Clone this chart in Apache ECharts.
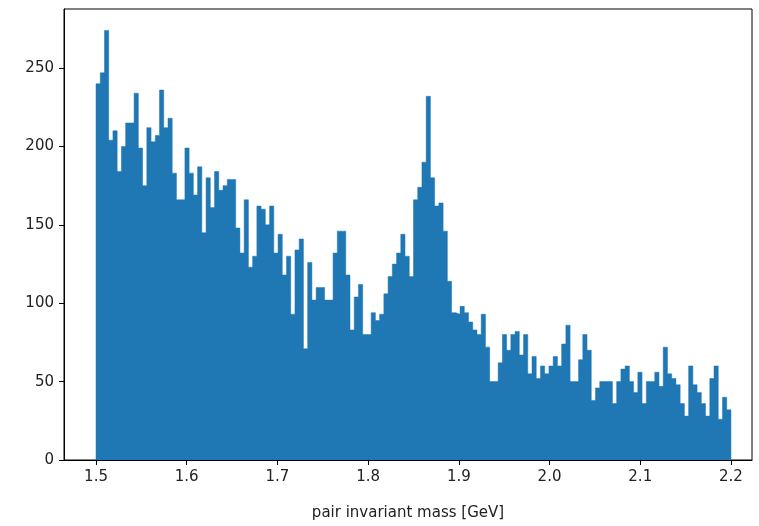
<!DOCTYPE html>
<html>
<head>
<meta charset="utf-8">
<script src="https://cdn.jsdelivr.net/npm/echarts@6/dist/echarts.min.js"></script>
<style>
  html, body { margin: 0; padding: 0; background: #fff; }
  #chart { width: 759px; height: 526px; }
</style>
</head>
<body>
<div id="chart"></div>
<script>
// histogram: 150 bins between 1.5 and 2.2 GeV
const binLow = 1.5;
const binHigh = 2.2;

// counts, 30 bins per block
const counts1500 = [240, 247, 274, 204, 210, 184, 200, 215, 215, 234, 199, 175, 212, 203, 207,
  236, 212, 218, 183, 166, 166, 199, 183, 169, 187, 145, 180, 161, 184, 172];
const counts1640 = [175, 179, 179, 148, 132, 166, 123, 130, 162, 160, 150, 162, 132, 144, 118,
  130, 93, 134, 141, 71, 126, 102, 110, 110, 102, 102, 132, 146, 146, 118];
const counts1780 = [83, 104, 112, 80, 80, 94, 89, 93, 106, 117, 125, 132, 144, 130, 117,
  166, 174, 190, 232, 180, 162, 164, 146, 114, 94, 93, 98, 94, 88, 83];
const counts1920 = [80, 93, 72, 50, 50, 62, 80, 70, 80, 82, 67, 80, 55, 66, 52,
  60, 55, 60, 66, 60, 74, 86, 50, 50, 64, 80, 70, 38, 46, 50];
const counts2060 = [50, 50, 36, 50, 58, 60, 50, 43, 56, 36, 50, 50, 56, 47, 72,
  55, 52, 48, 36, 28, 60, 48, 43, 36, 28, 52, 60, 26, 40, 32];

const xTicks = [1.5, 1.6, 1.7, 1.8, 1.9, 2.0, 2.1, 2.2];
const yTicks = [0, 50, 100, 150, 200, 250];

const counts = [].concat(counts1500, counts1640, counts1780, counts1920, counts2060);
const binWidth = (binHigh - binLow) / counts.length;

// step outline: each bin's left edge carries its count, closed down to 0 at both ends
const steps = [[binLow, 0]];
counts.forEach((c, i) => steps.push([binLow + i * binWidth, c]));
steps.push([binHigh, counts[counts.length - 1]]);
steps.push([binHigh, 0]);

const chart = echarts.init(document.getElementById('chart'));
const font = 'DejaVu Sans';
const barColor = '#1f77b4';

chart.setOption({
  animation: false,
  backgroundColor: '#fff',
  grid: {
    left: 64, right: 7, top: 9, bottom: 65,
    show: true, borderColor: '#000', borderWidth: 1
  },
  xAxis: {
    type: 'value',
    min: 1.4647,
    max: 2.2232,
    name: 'pair invariant mass [GeV]',
    nameLocation: 'middle',
    nameGap: 46,
    nameTextStyle: { color: '#222', fontFamily: font, fontSize: 15 },
    axisLine: { show: true, lineStyle: { color: '#000' } },
    axisTick: { show: true, length: 5, lineStyle: { color: '#000' }, customValues: xTicks },
    axisLabel: {
      color: '#222', fontFamily: font, fontSize: 15, margin: 10,
      customValues: xTicks,
      formatter: v => v.toFixed(1)
    },
    splitLine: { show: false }
  },
  yAxis: {
    type: 'value',
    min: 0,
    max: 287.7,
    axisLine: { show: true, lineStyle: { color: '#000' } },
    axisTick: { show: true, length: 5, lineStyle: { color: '#000' }, customValues: yTicks },
    axisLabel: {
      color: '#222', fontFamily: font, fontSize: 15, margin: 10,
      customValues: yTicks
    },
    splitLine: { show: false }
  },
  series: [{
    type: 'line',
    step: 'end',
    data: steps,
    showSymbol: false,
    symbol: 'none',
    lineStyle: { color: barColor, width: 0.5 },
    areaStyle: { color: barColor, opacity: 1 },
    z: 1
  }]
});
</script>
</body>
</html>
